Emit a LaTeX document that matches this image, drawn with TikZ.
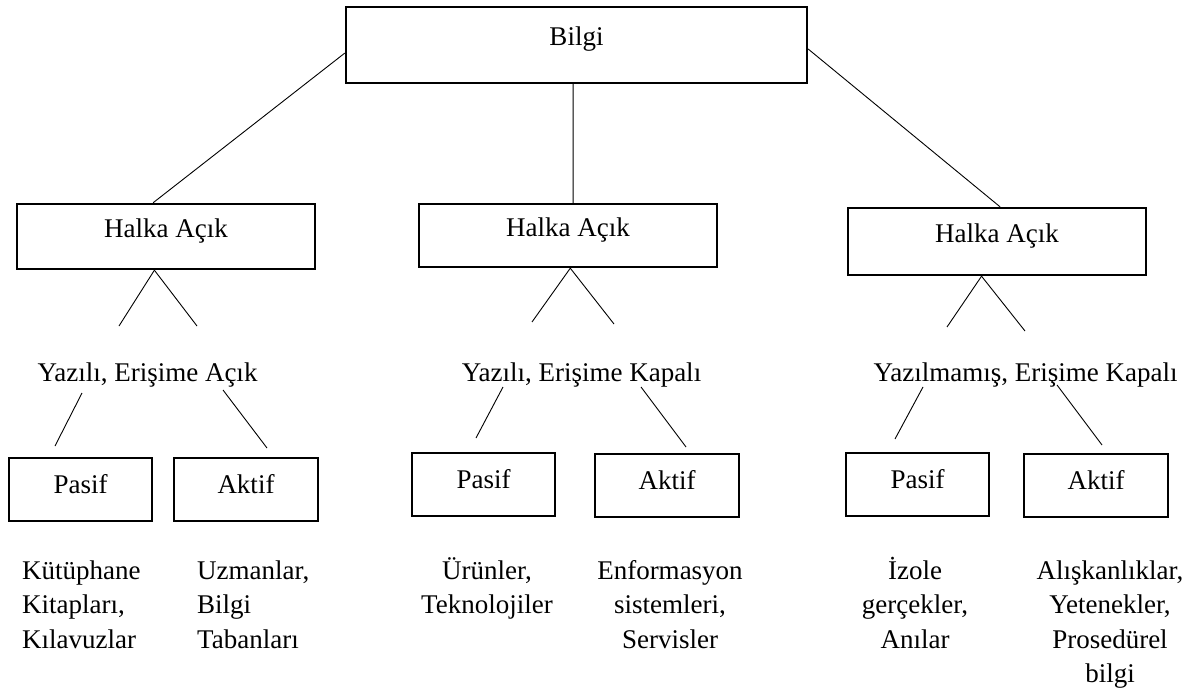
\documentclass[tikz,border=0pt]{standalone}
\usepackage{fontspec}
\setmainfont{Liberation Serif}
\usepackage{tikz}

\tikzset{
    kutu/.style={draw, line width=2.4pt, inner sep=0pt},
    ust/.style={kutu, minimum width=298, minimum height=65, text height=14pt, text depth=12pt},
    yaprak/.style={kutu, minimum width=143, minimum height=63, text height=17pt, text depth=9pt},
    etiket/.style={anchor=base, inner sep=0pt},
    ornek/.style={anchor=base, inner sep=0pt, align=center},
    hat/.style={line width=0.9pt}
}

\begin{document}
\begin{tikzpicture}[x=1pt, y=-1pt, font=\fontsize{27}{34.5}\selectfont]
    \useasboundingbox (0,0) rectangle (1203,693);

    \node[kutu, minimum width=461, minimum height=76, text height=14pt, text depth=12pt](bilgi) at (576.5,45) {Bilgi};

    \node[ust](halkaA)                      at (166,236.5)  {Halka Açık};
    \node[ust, minimum height=63](halkaB)   at (568,235.5)  {Halka Açık};
    \node[ust, minimum height=67](halkaC)   at (997,241.5)  {Halka Açık};

    \node[etiket](yaziA) at (147.5,381)  {Yazılı, Erişime Açık};
    \node[etiket](yaziB) at (581.5,381)  {Yazılı, Erişime Kapalı};
    \node[etiket](yaziC) at (1025.5,381) {Yazılmamış, Erişime Kapalı};

    \node[yaprak](pasifA)                   at (80.5,489.5)  {Pasif};
    \node[yaprak, minimum width=144](aktifA) at (246,489.5)  {Aktif};
    \node[yaprak](pasifB)                   at (483.5,484.5) {Pasif};
    \node[yaprak, minimum width=144](aktifB) at (667,485.5)  {Aktif};
    \node[yaprak](pasifC)                   at (917.5,484.5) {Pasif};
    \node[yaprak, minimum width=144](aktifC) at (1096,485.5) {Aktif};

    \node[ornek, align=left, anchor=base west](ornPA) at (22,648)  {Kütüphane\\Kitapları,\\Kılavuzlar};
    \node[ornek, align=left, anchor=base west](ornAA) at (197,648) {Uzmanlar,\\Bilgi\\Tabanları};
    \node[ornek](ornPB) at (487,613.5)  {Ürünler,\\Teknolojiler};
    \node[ornek](ornAB) at (670,648)    {Enformasyon\\sistemleri,\\Servisler};
    \node[ornek](ornPC) at (915,648)    {İzole\\gerçekler,\\Anılar};
    \node[ornek](ornAC) at (1110,682.5) {Alışkanlıklar,\\Yetenekler,\\Prosedürel\\bilgi};

    \coordinate (vA1) at (119,326);
    \coordinate (vA2) at (197,326);
    \coordinate (vB1) at (532,322);
    \coordinate (vB2) at (614,324);
    \coordinate (vC1) at (947,327);
    \coordinate (vC2) at (1025,331);

    \coordinate (aA1) at (82,393);   \coordinate (bA1) at (55,446);
    \coordinate (aA2) at (223,390);  \coordinate (bA2) at (267,448);
    \coordinate (aB1) at (503,387);  \coordinate (bB1) at (476,438);
    \coordinate (aB2) at (641,387);  \coordinate (bB2) at (686,447);
    \coordinate (aC1) at (923,387);  \coordinate (bC1) at (895,439);
    \coordinate (aC2) at (1057,385); \coordinate (bC2) at (1102,445);

    \path[hat]
        (bilgi.182) edge (halkaA.111)
        (bilgi.265) edge (halkaB.81)
        (bilgi.-1)  edge (halkaC.85)
        (halkaA.251)
            edge (vA1)
            edge (vA2)
        (halkaB.274)
            edge (vB1)
            edge (vB2)
        (halkaC.246)
            edge (vC1)
            edge (vC2)
        (aA1) edge (bA1)
        (aA2) edge (bA2)
        (aB1) edge (bB1)
        (aB2) edge (bB2)
        (aC1) edge (bC1)
        (aC2) edge (bC2)
        ;
\end{tikzpicture}
\end{document}
